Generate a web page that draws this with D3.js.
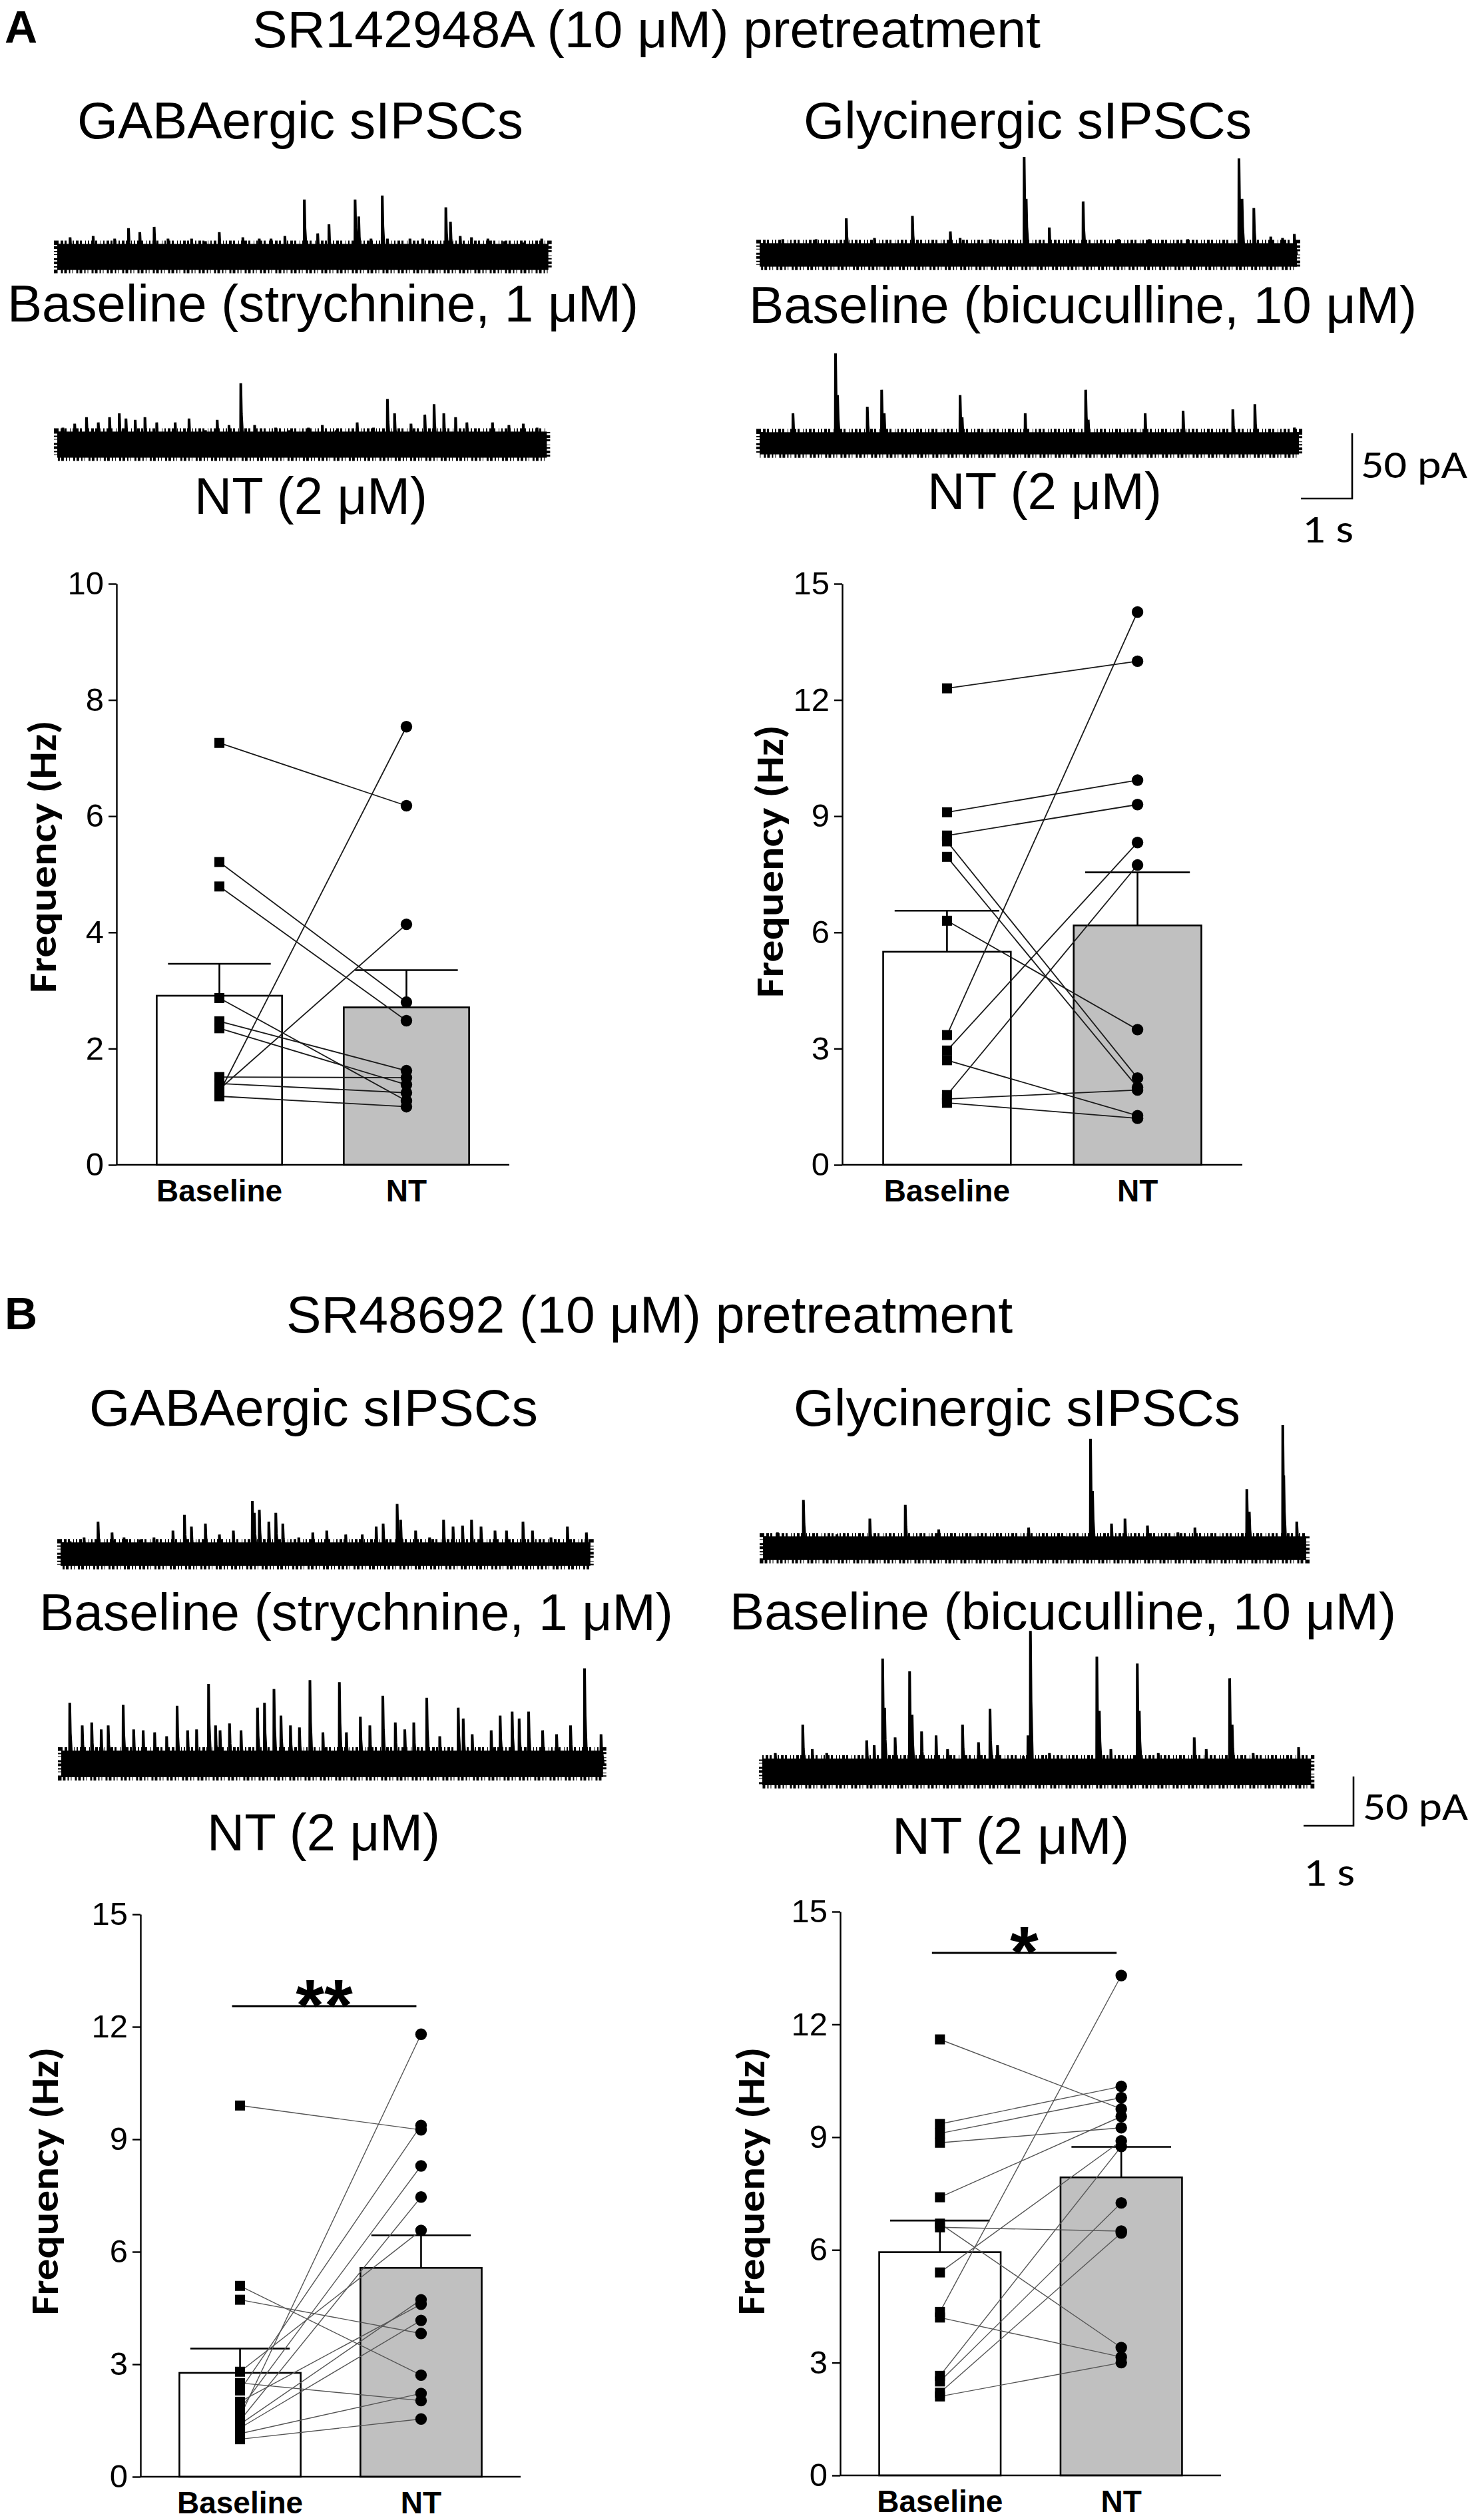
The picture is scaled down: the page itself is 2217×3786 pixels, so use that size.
<!DOCTYPE html>
<html>
<head>
<meta charset="utf-8">
<script src="https://cdn.jsdelivr.net/npm/d3@7"></script>
<style>
  html, body { margin: 0; padding: 0; background: #fff; }
  svg { display: block; }
</style>
</head>
<body>
<svg id="fig" width="2217" height="3786"></svg>
<script>
// ---- data ----------------------------------------------------------
const groups = ["Baseline", "NT"];
const ticks10 = [0, 2, 4, 6, 8, 10];
const ticks15 = [0, 3, 6, 9, 12, 15];

// A: SR142948A pretreatment
const aGabaBase = [7.26, 5.21, 4.79, 1.24, 1.30, 2.87, 2.47, 2.35, 1.51, 1.40, 1.18];
const aGabaNT   = [6.18, 2.80, 2.48, 7.54, 4.14, 1.10, 1.62, 1.38, 1.50, 1.24, 1.00];
const aGabaMean = [2.91, 2.71];
const aGabaSem  = [0.55, 0.64];

const aGlyBase = [12.3, 9.1, 8.5, 8.35, 7.95, 6.3, 3.35, 2.95, 2.7, 1.8, 1.7, 1.6];
const aGlyNT   = [13.0, 9.93, 9.3, 2.24, 2.0, 3.49, 14.27, 8.32, 1.27, 7.74, 1.93, 1.2];
const aGlyMean = [5.50, 6.18];
const aGlySem  = [1.06, 1.37];

// B: SR48692 pretreatment
const bGabaBase = [9.9, 5.09, 4.72, 2.8, 2.5, 2.3, 2.0, 1.8, 1.6, 1.5, 1.4, 1.3, 1.15, 1.0];
const bGabaNT   = [9.25, 2.71, 3.82, 6.57, 2.03, 9.37, 4.6, 8.29, 11.8, 7.46, 4.72, 4.17, 2.22, 1.54];
const bGabaMean = [2.77, 5.57];
const bGabaSem  = [0.65, 0.87];

const bGlyBase = [11.6, 9.35, 9.1, 8.85, 7.4, 6.7, 6.6, 5.4, 4.35, 4.2, 2.65, 2.5, 2.2, 2.1];
const bGlyNT   = [9.75, 10.35, 10.05, 9.25, 9.55, 3.4, 6.5, 8.9, 13.3, 3.15, 8.75, 7.25, 6.45, 3.0];
const bGlyMean = [5.94, 7.93];
const bGlySem  = [0.84, 0.81];

const bSigLevel = [12.55, 13.9];
const bSigText  = ["**", "*"];

// sIPSC traces: events as [time s, amplitude pA]
const aGabaBaseSpikes = [[0.25,15],[0.70,16],[1.12,14],[1.39,22],[1.61,19],[1.89,23],[2.16,14],[2.62,14],[2.89,12],[3.16,19],[3.62,15],[3.94,14],[4.17,14],[4.44,16],[4.82,44],[5.08,18],[5.30,25],[5.81,44],[5.88,31],[6.12,14],[6.34,47],[6.44,14],[6.88,14],[7.13,14],[7.58,38],[7.67,27],[7.86,16],[8.08,15],[8.40,14],[8.72,12],[9.09,11],[9.45,14]];
const aGabaNTSpikes = [[0.11,13],[0.34,16],[0.57,21],[0.80,17],[1.02,21],[1.21,24],[1.34,20],[1.52,19],[1.71,21],[1.94,17],[2.30,17],[2.57,20],[2.89,11],[3.12,19],[3.35,15],[3.58,47],[3.85,15],[4.26,13],[4.53,11],[4.90,13],[5.17,15],[5.44,11],[5.85,17],[6.17,13],[6.44,35],[6.58,24],[6.90,16],[7.17,23],[7.35,31],[7.54,24],[7.77,21],[7.99,17],[8.49,17],[8.81,15],[9.09,16],[9.36,13]];
const aGlyBaseSpikes = [[0.45,12],[1.10,12],[1.69,28],[2.24,13],[2.98,30],[3.72,18],[3.91,13],[4.50,12],[5.16,75],[5.20,43],[5.65,21],[6.31,41],[7.00,12],[7.60,12],[8.35,12],[9.35,74],[9.41,43],[9.64,36],[9.97,14],[10.20,13],[10.43,16]];
const aGlyNTSpikes = [[0.65,23],[1.48,69],[1.52,37],[2.10,28],[2.38,41],[2.43,23],[3.91,37],[3.95,20],[5.18,23],[6.36,41],[6.41,18],[7.52,23],[8.26,25],[9.23,26],[9.66,30],[10.43,12]];
const bGabaBaseSpikes = [[0.19,13],[0.47,17],[0.75,33],[1.03,22],[1.27,17],[1.59,15],[1.87,17],[2.25,24],[2.48,40],[2.62,28],[2.90,31],[3.18,20],[3.46,24],[3.84,54],[3.88,42],[3.98,45],[4.17,33],[4.31,42],[4.45,31],[4.77,17],[5.05,22],[5.33,24],[5.71,20],[6.04,20],[6.32,28],[6.46,31],[6.74,51],[6.81,35],[7.11,24],[7.39,17],[7.67,35],[7.86,28],[8.05,29],[8.23,35],[8.42,28],[8.70,24],[8.93,24],[9.26,33],[9.45,24],[9.82,17],[10.15,28],[10.53,22]];
const bGabaNTSpikes = [[0.17,62],[0.42,39],[0.61,42],[0.80,35],[0.94,39],[1.24,60],[1.45,35],[1.64,34],[1.87,32],[2.11,28],[2.32,59],[2.53,34],[2.71,35],[2.95,81],[3.09,39],[3.18,34],[3.37,41],[3.60,34],[3.93,57],[4.07,62],[4.26,76],[4.40,49],[4.59,39],[4.77,37],[4.98,85],[5.24,32],[5.57,83],[5.71,32],[5.99,48],[6.18,39],[6.44,69],[6.69,42],[6.88,35],[7.06,42],[7.32,67],[7.58,28],[7.95,57],[8.05,46],[8.23,30],[8.61,34],[8.79,49],[9.03,53],[9.17,46],[9.36,53],[9.64,34],[9.92,30],[10.20,39],[10.48,97],[10.81,30]];
const bGlyBaseSpikes = [[0.29,16],[0.81,49],[1.48,14],[2.14,30],[2.85,44],[3.52,19],[4.33,12],[5.32,21],[6.03,12],[6.56,111],[6.60,58],[6.98,25],[7.25,30],[7.70,23],[8.31,16],[8.65,21],[9.69,60],[9.74,37],[10.41,125],[10.43,74],[10.69,27]];
const bGlyNTSpikes = [[0.26,19],[0.81,48],[1.00,23],[1.29,19],[1.86,12],[2.09,32],[2.24,27],[2.41,115],[2.45,65],[2.66,35],[2.95,102],[3.00,58],[3.19,41],[3.48,37],[3.71,23],[4.01,48],[4.33,30],[4.56,64],[4.71,27],[5.23,16],[5.32,37],[5.37,143],[5.75,19],[6.23,12],[6.70,117],[6.75,62],[6.98,23],[7.51,110],[7.55,62],[7.93,19],[8.65,35],[8.89,23],[9.36,95],[9.41,48],[9.83,19],[10.74,25]];

// trace durations (s) and baseline noise half-band (pA): GABA base, GABA NT, Gly base, Gly NT
const aTraceDur   = [9.58, 9.55, 10.48, 10.52];
const aTraceNoise = [10, 10, 9, 8.5];
const bTraceDur   = [10.61, 10.85, 10.88, 10.99];
const bTraceNoise = [12, 13.5, 12, 13.5];

const scaleBarPA = 50;
const scaleBarS = 1;

// ---- drawing -------------------------------------------------------
const svg = d3.select("#fig");
const FONT = "'Liberation Sans', Arial, Helvetica, sans-serif";
const FONT_CAL = "Carlito, Lato, 'Open Sans', sans-serif";
const barFill = ["#ffffff", "#c0c0c0"];

function label(txt, x, y, w, size, weight, family) {
  const t = svg.append("text").attr("x", x).attr("y", y)
    .attr("font-family", family || FONT).attr("font-size", size).attr("fill", "#000").text(txt);
  if (weight) t.attr("font-weight", weight);
  if (w) t.attr("textLength", w).attr("lengthAdjust", "spacingAndGlyphs");
  return t;
}

function drawTrace(x0, yc, dur, noise, spikes, pxS, pxPA) {
  const xs = d3.scaleLinear().domain([0, dur]).range([x0, x0 + dur * pxS]);
  const ys = d3.scaleLinear().domain([0, 50]).range([yc, yc - 50 * pxPA]);
  // noise band; the broken stroke roughens its edges like recording noise
  svg.append("rect")
    .attr("x", xs(0)).attr("y", ys(noise))
    .attr("width", xs(dur) - xs(0)).attr("height", ys(-noise) - ys(noise))
    .attr("fill", "#000").attr("stroke", "#000").attr("stroke-width", 10)
    .attr("stroke-dasharray", "2 3 4 2 3 5 1 3");
  const line = d3.line().x(d => xs(d[0])).y(d => ys(d[1]));
  const segs = spikes.map(([t, a]) => [[t - 0.004, 0], [t, a], [t + 0.012, a * 0.5], [t + 0.045, 0]]);
  svg.append("path").attr("d", segs.map(line).join(""))
    .attr("fill", "none").attr("stroke", "#000").attr("stroke-width", 4);
}

function drawScaleBar(xEnd, yBot, pxS, pxPA) {
  const h = scaleBarS * pxS, v = scaleBarPA * pxPA;
  svg.append("path").attr("d", `M${xEnd - h},${yBot}H${xEnd}V${yBot - v}`)
    .attr("fill", "none").attr("stroke", "#000").attr("stroke-width", 2.6);
}

function drawChart(o) {
  const g = svg.append("g");
  const y = d3.scaleLinear().domain([0, o.max]).range([o.y0, o.yTop]);
  const x = d3.scaleBand().domain(groups).range([o.xa, o.xe]).paddingInner(0.33).paddingOuter(0.215);
  const bw = x.bandwidth();
  const cx = k => x(groups[k]) + bw / 2;

  // bars
  g.selectAll("rect.bar").data(o.mean).join("rect").attr("class", "bar")
    .attr("x", (d, i) => x(groups[i])).attr("y", d => y(d))
    .attr("width", bw).attr("height", d => o.y0 - y(d))
    .attr("fill", (d, i) => barFill[i]).attr("stroke", "#000").attr("stroke-width", 2.6);

  // SEM whiskers
  o.mean.forEach((m, i) => {
    const top = y(m + o.sem[i]);
    g.append("path")
      .attr("d", `M${cx(i)},${y(m)}V${top}M${cx(i) - bw * 0.41},${top}H${cx(i) + bw * 0.41}`)
      .attr("fill", "none").attr("stroke", "#000").attr("stroke-width", 2.6);
  });

  // axes
  const ya = g.append("g").attr("transform", `translate(${o.xa},0)`)
    .call(d3.axisLeft(y).tickValues(o.ticks).tickSize(12).tickSizeOuter(0).tickPadding(7));
  ya.attr("font-family", FONT).attr("font-size", 49);
  ya.selectAll("path, line").attr("stroke", "#000").attr("stroke-width", 2.4);
  ya.selectAll("text").attr("fill", "#000");

  const xa = g.append("g").attr("transform", `translate(0,${o.y0})`)
    .call(d3.axisBottom(x).tickSize(0).tickSizeOuter(0).tickPadding(22));
  xa.attr("font-family", FONT).attr("font-size", 46).attr("font-weight", "bold");
  xa.select(".domain").attr("d", `M${o.xa},0H${o.xe}`).attr("stroke", "#000").attr("stroke-width", 2.4);
  xa.selectAll("text").attr("fill", "#000");

  // paired lines
  g.selectAll("line.pair").data(o.base).join("line").attr("class", "pair")
    .attr("x1", cx(0)).attr("y1", d => y(d))
    .attr("x2", cx(1)).attr("y2", (d, i) => y(o.nt[i]))
    .attr("stroke", o.lineColor).attr("stroke-width", o.lineW);

  // markers
  g.selectAll("rect.sq").data(o.base).join("rect").attr("class", "sq")
    .attr("x", cx(0) - 7.5).attr("y", d => y(d) - 7.5)
    .attr("width", 15).attr("height", 15).attr("fill", "#000");
  g.selectAll("circle.dot").data(o.nt).join("circle").attr("class", "dot")
    .attr("cx", cx(1)).attr("cy", d => y(d)).attr("r", 8.7).attr("fill", "#000");

  // y title
  g.append("text")
    .attr("transform", `translate(${o.tx},${o.ty}) rotate(-90)`)
    .attr("text-anchor", "middle").attr("font-family", FONT_CAL)
    .attr("font-weight", "bold").attr("font-size", 58)
    .attr("textLength", o.tw).attr("lengthAdjust", "spacingAndGlyphs")
    .text("Frequency (Hz)");

  // significance
  if (o.sig != null) {
    const sy = y(o.sig);
    const x1 = cx(0) - 12, x2 = cx(1) - 7;
    g.append("line").attr("x1", x1).attr("x2", x2).attr("y1", sy).attr("y2", sy)
      .attr("stroke", "#000").attr("stroke-width", 3);
    g.append("text").attr("x", (x1 + x2) / 2).attr("y", sy + 36)
      .attr("text-anchor", "middle").attr("font-family", FONT)
      .attr("font-weight", "bold").attr("font-size", 110).text(o.sigText);
  }
}

// ---- panel A ----
const A_PXS = 77, A_PXPA = 1.96;
label("A", 7, 64, null, 68, "bold");
label("SR142948A (10 μM) pretreatment", 379, 71, 1184, 78);
label("GABAergic sIPSCs", 116, 208, 670, 78);
label("Glycinergic sIPSCs", 1207, 208, 673, 78);
drawTrace(86, 386, aTraceDur[0], aTraceNoise[0], aGabaBaseSpikes, A_PXS, A_PXPA);
drawTrace(86, 668, aTraceDur[1], aTraceNoise[1], aGabaNTSpikes, A_PXS, A_PXPA);
drawTrace(1141, 383, aTraceDur[2], aTraceNoise[2], aGlyBaseSpikes, A_PXS, A_PXPA);
drawTrace(1141, 666, aTraceDur[3], aTraceNoise[3], aGlyNTSpikes, A_PXS, A_PXPA);
label("Baseline (strychnine, 1 μM)", 11, 483, 948, 78);
label("Baseline (bicuculline, 10 μM)", 1125, 485, 1003, 78);
label("NT (2 μM)", 292, 772, 350, 78);
label("NT (2 μM)", 1393, 765, 352, 78);
drawScaleBar(2031, 749, A_PXS, A_PXPA);
label("50 pA", 2044, 718, 160, 60, null, FONT_CAL);
label("1 s", 1956, 815, 77, 60, null, FONT_CAL);

drawChart({ xa: 175, xe: 765, y0: 1750, yTop: 877, max: 10, ticks: ticks10,
  base: aGabaBase, nt: aGabaNT, mean: aGabaMean, sem: aGabaSem,
  lineColor: "#1a1a1a", lineW: 1.8, tx: 84, ty: 1287, tw: 410 });
drawChart({ xa: 1265, xe: 1866, y0: 1750, yTop: 877, max: 15, ticks: ticks15,
  base: aGlyBase, nt: aGlyNT, mean: aGlyMean, sem: aGlySem,
  lineColor: "#1a1a1a", lineW: 1.8, tx: 1176, ty: 1294, tw: 410 });

// ---- panel B ----
const B_PXS = 75, B_PXPA = 1.48;
label("B", 7, 1997, null, 68, "bold");
label("SR48692 (10 μM) pretreatment", 430, 2002, 1091, 78);
label("GABAergic sIPSCs", 134, 2142, 674, 78);
label("Glycinergic sIPSCs", 1192, 2142, 671, 78);
drawTrace(91, 2335, bTraceDur[0], bTraceNoise[0], bGabaBaseSpikes, B_PXS, B_PXPA);
drawTrace(92, 2650, bTraceDur[1], bTraceNoise[1], bGabaNTSpikes, B_PXS, B_PXPA);
drawTrace(1146, 2326, bTraceDur[2], bTraceNoise[2], bGlyBaseSpikes, B_PXS, B_PXPA);
drawTrace(1145, 2662, bTraceDur[3], bTraceNoise[3], bGlyNTSpikes, B_PXS, B_PXPA);
label("Baseline (strychnine, 1 μM)", 59, 2449, 952, 78);
label("Baseline (bicuculline, 10 μM)", 1096, 2448, 1001, 78);
label("NT (2 μM)", 311, 2780, 350, 78);
label("NT (2 μM)", 1340, 2785, 356, 78);
drawScaleBar(2033, 2743, B_PXS, B_PXPA);
label("50 pA", 2047, 2734, 158, 60, null, FONT_CAL);
label("1 s", 1958, 2833, 77, 60, null, FONT_CAL);

drawChart({ xa: 211, xe: 782, y0: 3721, yTop: 2876, max: 15, ticks: ticks15,
  base: bGabaBase, nt: bGabaNT, mean: bGabaMean, sem: bGabaSem,
  lineColor: "#555", lineW: 1.4, tx: 87, ty: 3277, tw: 403,
  sig: bSigLevel[0], sigText: bSigText[0] });
drawChart({ xa: 1262, xe: 1834, y0: 3719, yTop: 2872, max: 15, ticks: ticks15,
  base: bGlyBase, nt: bGlyNT, mean: bGlyMean, sem: bGlySem,
  lineColor: "#555", lineW: 1.4, tx: 1148, ty: 3277, tw: 403,
  sig: bSigLevel[1], sigText: bSigText[1] });
</script>
</body>
</html>
